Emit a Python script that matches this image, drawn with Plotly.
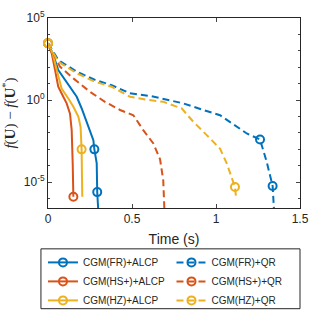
import plotly.graph_objects as go

# time (s) and f(U) - f(U*)
t_fr_alcp = [0, 0.032, 0.061, 0.101, 0.141, 0.171, 0.200, 0.240, 0.270, 0.276, 0.290, 0.293, 0.302]
f_fr_alcp = [2.9e3, 5.5e2, 6.8e1, 1.7e1, 5.1, 1.6, 3.2e-1, 2.3e-2, 3.6e-3, 1.0e-3, 1.4e-4, 2.5e-6, 6e-8]
m_fr_alcp = [0, 9, 11]

t_hs_alcp = [0, 0.022, 0.042, 0.061, 0.091, 0.111, 0.131, 0.141, 0.147, 0.151]
f_hs_alcp = [2.9e3, 7.1e2, 6.8e1, 6.5, 1.6, 6.3e-1, 1.5e-1, 1.5e-2, 1.4e-4, 1.3e-6]
m_hs_alcp = [0, 9]

t_hz_alcp = [0, 0.028, 0.052, 0.081, 0.121, 0.151, 0.181, 0.194, 0.200, 0.204]
f_hz_alcp = [2.9e3, 7.1e2, 6.8e1, 5.1, 1.26, 3.9e-1, 9.5e-2, 2.3e-2, 1.0e-3, 1.3e-6]
m_hz_alcp = [0, 8]

t_fr_qr = [0, 0.061, 0.171, 0.280, 0.379, 0.488, 0.607, 0.707, 0.806, 0.915, 1.024, 1.103, 1.183, 1.262, 1.302, 1.337, 1.347]
f_fr_qr = [2.9e3, 2.8e2, 5.4e1, 1.7e1, 8.1, 2.6, 1.8, 1.1, 6.3e-1, 2.7e-1, 1.2e-1, 3.4e-2, 9.3e-3, 4.0e-3, 1.7e-4, 5.9e-6, 1e-7]
m_fr_qr = [13, 15]

t_hs_qr = [0, 0.071, 0.151, 0.250, 0.339, 0.429, 0.508, 0.567, 0.627, 0.667, 0.686, 0.694]
f_hs_qr = [2.9e3, 1.1e2, 2.1e1, 3.2, 7.9e-1, 2.5e-1, 1.2e-1, 1.5e-2, 2.3e-3, 2.5e-4, 1.3e-5, 1e-7]
m_hs_qr = []

t_hz_qr = [0, 0.060, 0.171, 0.280, 0.379, 0.488, 0.587, 0.686, 0.796, 0.865, 0.945, 1.024, 1.064, 1.093, 1.113, 1.119]
f_hz_qr = [2.9e3, 2.2e2, 4.3e1, 1.3e1, 6.5, 1.6, 1.05, 7.9e-1, 3.1e-1, 4.8e-2, 7.4e-3, 1.1e-3, 1.4e-4, 1.7e-5, 5.1e-6, 1.3e-6]
m_hz_qr = [0, 14]

y_ticks = [1e-5, 1, 1e5]
y_ticktext = ["10<sup>-5</sup>", "10<sup>0</sup>", "10<sup>5</sup>"]
y_minor = [1e-6, 1e-4, 1e-3, 1e-2, 1e-1, 1e1, 1e2, 1e3, 1e4]

blue, orange, yellow = "#0072BD", "#D95319", "#EDB120"

series = [
    ("CGM(FR)+ALCP", t_fr_alcp, f_fr_alcp, m_fr_alcp, blue, "solid", "legend"),
    ("CGM(HS+)+ALCP", t_hs_alcp, f_hs_alcp, m_hs_alcp, orange, "solid", "legend"),
    ("CGM(HZ)+ALCP", t_hz_alcp, f_hz_alcp, m_hz_alcp, yellow, "solid", "legend"),
    ("CGM(FR)+QR", t_fr_qr, f_fr_qr, m_fr_qr, blue, "7px,4px", "legend2"),
    ("CGM(HS+)+QR", t_hs_qr, f_hs_qr, m_hs_qr, orange, "7px,4px", "legend2"),
    ("CGM(HZ)+QR", t_hz_qr, f_hz_qr, m_hz_qr, yellow, "7px,4px", "legend2"),
]

mk = dict(symbol="circle-open", size=8, line=dict(width=2))

fig = go.Figure()
for name, t, f, m, c, dash, lg in series:
    fig.add_trace(go.Scatter(x=t, y=f, mode="lines", line=dict(color=c, width=2, dash=dash),
                             showlegend=False))
for name, t, f, m, c, dash, lg in series:
    fig.add_trace(go.Scatter(x=[t[i] for i in m], y=[f[i] for i in m], mode="markers",
                             marker=dict(mk, color=c), showlegend=False, cliponaxis=False))
# legend-only entries (line + circle)
for name, t, f, m, c, dash, lg in series:
    fig.add_trace(go.Scatter(x=[None], y=[None], mode="lines+markers", name=name, legend=lg,
                             line=dict(color=c, width=2, dash=dash), marker=dict(mk, color=c)))

axcol = "#262626"
fig.update_xaxes(range=[0, 1.5], tickvals=[0, 0.5, 1, 1.5], ticktext=["0", "0.5", "1", "1.5"],
                 ticks="inside", ticklen=4, mirror="allticks", showline=True, linecolor=axcol,
                 linewidth=1, showgrid=False, zeroline=False, automargin=False,
                 title=dict(text="Time (s)", font=dict(size=14), standoff=8))
fig.update_yaxes(type="log", range=[-6.57, 5], tickvals=y_ticks, ticktext=y_ticktext,
                 ticks="inside", ticklen=4, mirror="allticks", showline=True, linecolor=axcol,
                 linewidth=1, showgrid=False, zeroline=False, automargin=False,
                 minor=dict(tickvals=y_minor, ticks="inside", ticklen=2, showgrid=False),
                 title=dict(text="<i>f</i>(<b>U</b>) − <i>f</i>(<b>U</b><sup>*</sup>)",
                            font=dict(family="Liberation Serif", size=15), standoff=6))

leg = dict(orientation="v", yanchor="top", xanchor="left", bgcolor="rgba(0,0,0,0)",
           borderwidth=0, font=dict(size=10), tracegroupgap=0)
fig.update_layout(
    width=332, height=332,
    margin=dict(l=48, r=32, t=18, b=124),
    plot_bgcolor="white", paper_bgcolor="white",
    font=dict(family="Liberation Sans", size=12, color=axcol),
    legend=dict(leg, x=-0.02, y=-0.21),
    legend2=dict(leg, x=0.49, y=-0.21),
    shapes=[dict(type="rect", xref="paper", yref="paper", x0=-0.028, x1=1.0, y0=-0.53, y1=-0.215,
                 line=dict(color=axcol, width=1), fillcolor="white", layer="below")],
)

fig.write_html("out.html", config={"displayModeBar": False},
               post_script="document.body.style.margin='0';")
